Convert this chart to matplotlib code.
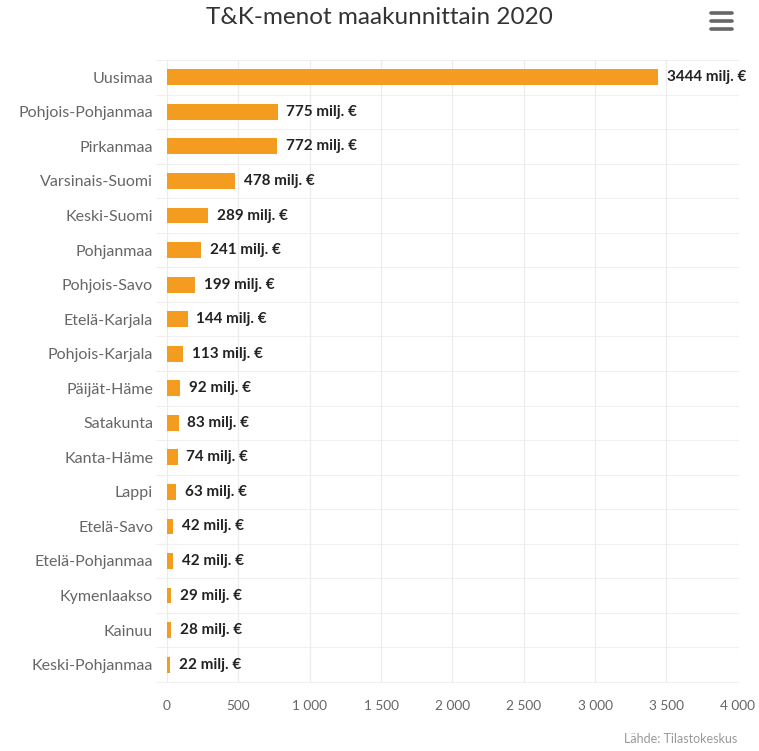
import matplotlib.pyplot as plt
from matplotlib.ticker import FuncFormatter
from matplotlib.lines import Line2D

# ====== DATA ======
regions = ['Uusimaa', 'Pohjois-Pohjanmaa', 'Pirkanmaa', 'Varsinais-Suomi',
           'Keski-Suomi', 'Pohjanmaa', 'Pohjois-Savo', 'Etelä-Karjala',
           'Pohjois-Karjala', 'Päijät-Häme', 'Satakunta', 'Kanta-Häme',
           'Lappi', 'Etelä-Savo', 'Etelä-Pohjanmaa', 'Kymenlaakso',
           'Kainuu', 'Keski-Pohjanmaa']
spend = [3444, 775, 772, 478, 289, 241, 199, 144, 113, 92, 83, 74,
         63, 42, 42, 29, 28, 22]
xticks = [0, 500, 1000, 1500, 2000, 2500, 3000, 3500, 4000]

plt.rcParams['font.family'] = ['Lato', 'DejaVu Sans']

fig = plt.figure(figsize=(7.59, 7.51), dpi=100)
ax = fig.add_axes([0.220, 0.092, 0.752, 0.828])

y = list(range(len(regions)))
ax.barh(y, spend, height=0.46, color='#F39C1F', zorder=3)

for yi, v in zip(y, spend):
    ax.text(v + 60, yi, f'{v} milj. €', va='center', ha='left',
            fontsize=11, fontweight='bold', color='#222222', zorder=4)

ax.set_ylim(len(regions) - 0.5, -0.5)
ax.set_xlim(0, 4000)
ax.set_yticks(y)
ax.set_yticklabels(regions, fontsize=11.5, color='#666666')
ax.set_xticks(xticks)
ax.xaxis.set_major_formatter(FuncFormatter(lambda v, p: f'{int(v):,}'.replace(',', ' ')))
ax.tick_params(axis='x', colors='#666666', labelsize=9.8, length=0, pad=13)
ax.tick_params(axis='y', length=0, pad=10)

ax.grid(axis='x', color='#ebebeb', linewidth=0.8, zorder=0)
for s in ax.spines.values():
    s.set_visible(False)

# category separators
for b in range(len(regions) + 1):
    ax.add_line(Line2D([-0.02, 1.0], [b - 0.5, b - 0.5], transform=ax.get_yaxis_transform(),
                       color='#f0f0f0', linewidth=0.8, clip_on=False, zorder=1))

fig.text(0.5, 0.977, 'T&K-menot maakunnittain 2020', ha='center', va='center',
         fontsize=17.5, color='#333333')
fig.text(0.972, 0.008, 'Lähde: Tilastokeskus', ha='right', va='bottom',
         fontsize=9, color='#999999')

# menu icon
for yy in [0.983, 0.972, 0.961]:
    fig.add_artist(Line2D([0.937, 0.965], [yy, yy], color='#666666',
                          linewidth=2.6, solid_capstyle='round'))

fig.savefig('out.png', dpi=100)
